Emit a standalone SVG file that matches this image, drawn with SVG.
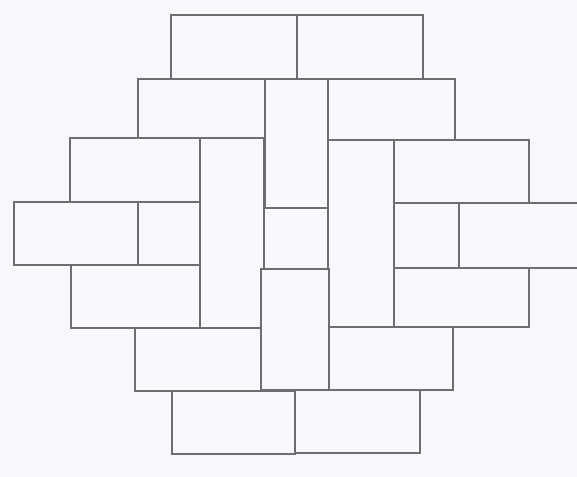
<svg xmlns="http://www.w3.org/2000/svg" width="577" height="477" viewBox="0 0 577 477">
<style>
.t{fill:#f9f9fc;stroke:#6e6e72;stroke-width:2;stroke-linejoin:miter}
</style>
<rect x="0" y="0" width="577" height="477" fill="#f8f8fb"/>
<g id="tiles">
<rect class="t" x="171" y="15" width="126" height="64"/>
<rect class="t" x="297" y="15" width="126" height="64"/>
<rect class="t" x="138" y="79" width="127" height="59"/>
<rect class="t" x="265" y="79" width="63" height="129"/>
<rect class="t" x="328" y="79" width="127" height="61"/>
<rect class="t" x="70" y="138" width="130" height="64"/>
<rect class="t" x="200" y="138" width="64" height="190"/>
<rect class="t" x="328" y="140" width="66" height="187"/>
<rect class="t" x="394" y="140" width="135" height="63"/>
<rect class="t" x="14" y="202" width="124" height="63"/>
<rect class="t" x="138" y="202" width="62" height="63"/>
<rect class="t" x="264" y="208" width="64" height="61"/>
<rect class="t" x="394" y="203" width="65" height="65"/>
<rect class="t" x="459" y="203" width="120" height="65"/>
<rect class="t" x="71" y="265" width="129" height="63"/>
<rect class="t" x="261" y="269" width="68" height="121"/>
<rect class="t" x="394" y="268" width="135" height="59"/>
<rect class="t" x="135" y="328" width="126" height="63"/>
<rect class="t" x="329" y="327" width="124" height="63"/>
<rect class="t" x="172" y="391" width="123" height="63"/>
<rect class="t" x="295" y="390" width="125" height="63"/>
</g>
</svg>
